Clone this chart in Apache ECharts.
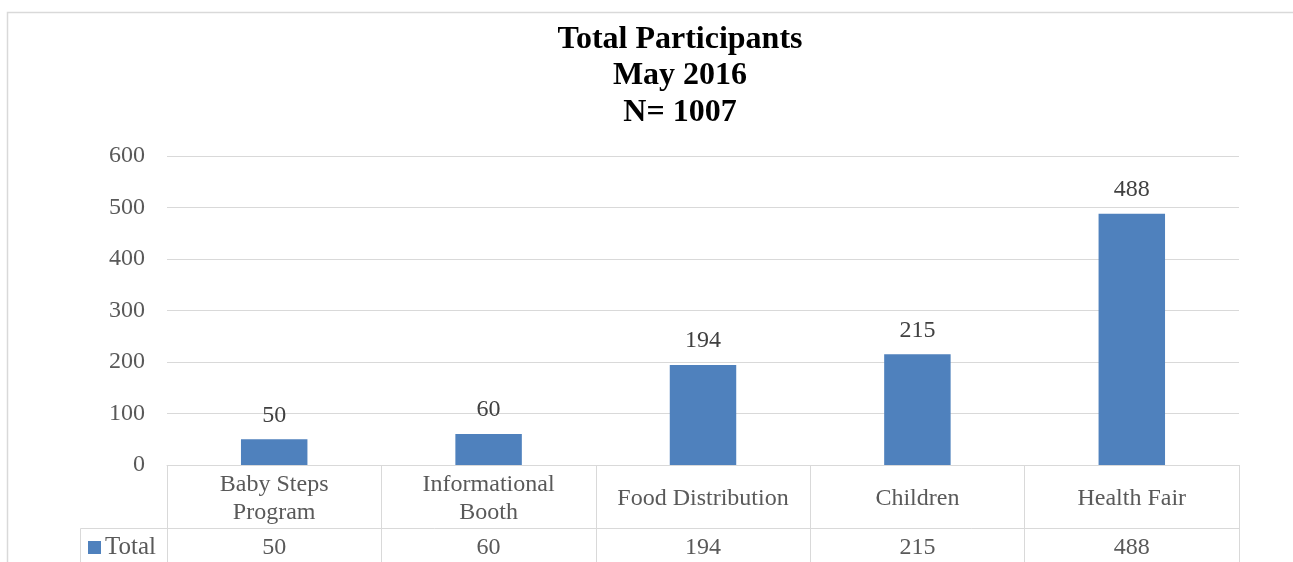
<!DOCTYPE html>
<html>
<head>
<meta charset="utf-8">
<script src="https://cdn.jsdelivr.net/npm/echarts@6/dist/echarts.min.js"></script>
<style>html,body{margin:0;padding:0;background:#fff}#c{width:1293px;height:562px}</style>
</head>
<body>
<div id="c"></div>
<script>
const categories = ['Baby Steps\nProgram', 'Informational\nBooth', 'Food Distribution', 'Children', 'Health Fair'];
const totals = [50, 60, 194, 215, 488];
const yTicks = [0, 100, 200, 300, 400, 500, 600];
const seriesName = 'Total';
const titleText = 'Total Participants\nMay 2016\nN= 1007';

const FONT = 'Liberation Serif';
const FS = 24;
const GRID = '#D9D9D9';
const TXT = '#595959';

const chart = echarts.init(document.getElementById('c'), null, {renderer: 'canvas'});
chart.setOption({
  animation: false,
  backgroundColor: '#fff',
  title: {
    text: titleText,
    left: 675, top: 16, textAlign: 'center',
    textStyle: {fontFamily: FONT, fontWeight: 'bold', fontSize: 32, lineHeight: 36.5, color: '#000'}
  },
  legend: {
    data: [seriesName], left: 83, top: 530,
    icon: 'rect', itemWidth: 13, itemHeight: 13, itemGap: 0,
    textStyle: {fontFamily: FONT, fontSize: 25, color: TXT, padding: [0,0,0,-1]}
  },
  grid: {left: 167, right: 54, top: 156, bottom: 97, containLabel: false},
  xAxis: [{
    type: 'category', data: categories, position: 'bottom',
    axisLine: {show: true, lineStyle: {color: GRID, width: 1}},
    axisTick: {show: true, length: 63, interval: 0, lineStyle: {color: GRID, width: 1}},
    axisLabel: {interval: 0, margin: 34, verticalAlign: 'middle', fontFamily: FONT, fontSize: FS, lineHeight: 28, color: TXT}
  }, {
    type: 'category', data: categories, position: 'bottom', offset: 63,
    axisLine: {show: true, lineStyle: {color: GRID, width: 1}},
    axisTick: {show: true, length: 40, interval: 0, lineStyle: {color: GRID, width: 1}},
    axisLabel: {interval: 0, margin: 20, verticalAlign: 'middle', fontFamily: FONT, fontSize: FS, color: TXT,
      formatter: (v, i) => String(totals[i])}
  }],
  yAxis: {
    type: 'value', min: yTicks[0], max: yTicks[yTicks.length-1], interval: 100,
    axisLine: {show: false}, axisTick: {show: false},
    splitLine: {lineStyle: {color: GRID, width: 1}},
    axisLabel: {margin: 22, fontFamily: FONT, fontSize: FS, color: TXT}
  },
  series: [{
    name: seriesName, type: 'bar', data: totals, barWidth: '31%', xAxisIndex: 0,
    itemStyle: {color: '#4F81BD'},
    label: {show: true, position: 'top', distance: 12, fontFamily: FONT, fontSize: FS, color: '#404040'}
  }],
  graphic: [
    {type: 'rect', shape: {x: 7.5, y: 12.5, width: 1300, height: 600}, style: {fill: null, stroke: GRID, lineWidth: 1.5}, silent: true},
    {type: 'line', shape: {x1: 80.5, y1: 528.5, x2: 167, y2: 528.5}, style: {stroke: GRID, lineWidth: 1}, silent: true},
    {type: 'line', shape: {x1: 80.5, y1: 528.5, x2: 80.5, y2: 570}, style: {stroke: GRID, lineWidth: 1}, silent: true}
  ]
});
</script>
</body>
</html>
